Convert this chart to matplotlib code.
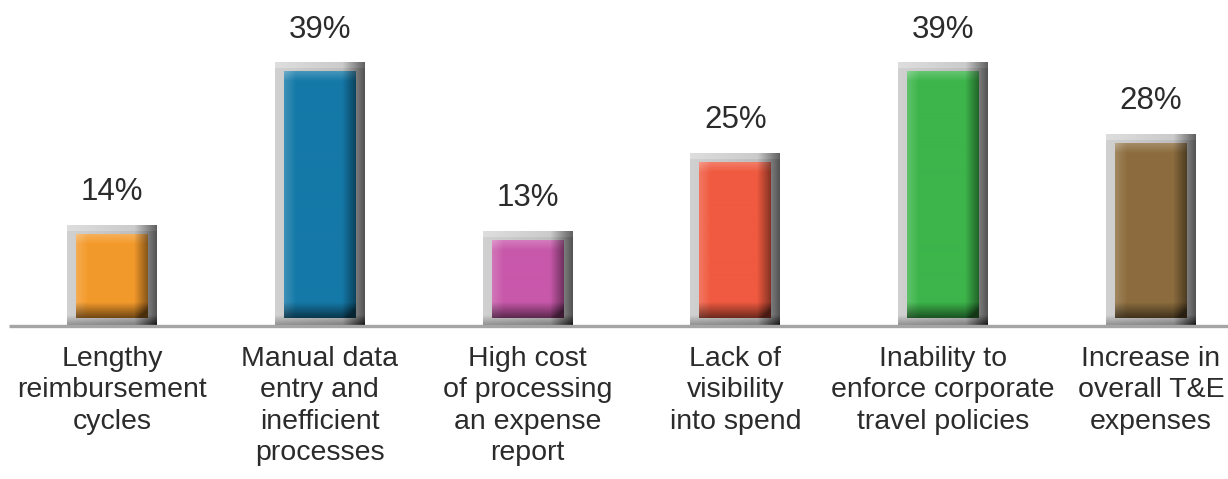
import numpy as np
import matplotlib
matplotlib.use("Agg")
import matplotlib.pyplot as plt
from matplotlib.colors import to_rgb

#----------------------------------------------------------------------------------------
categories = [
    "Lengthy\nreimbursement\ncycles",
    "Manual data\nentry and\ninefficient\nprocesses",
    "High cost\nof processing\nan expense\nreport",
    "Lack of\nvisibility\ninto spend",
    "Inability to\nenforce corporate\ntravel policies",
    "Increase in\noverall T&E\nexpenses",
]
values = [14, 39, 13, 25, 39, 28]
value_labels = ["14%", "39%", "13%", "25%", "39%", "28%"]
colors = ["#F39A2B", "#1579A8", "#C858AA", "#EF5A40", "#3DB54B", "#8C6D3E"]

plt.rcParams['font.family'] = ['Liberation Sans', 'DejaVu Sans']

PX_X = 207.8   # pixels per category
PX_Y = 6.5     # pixels per percent


def inner_image(color, wpx, hpx):
    # bevelled fill: light left/top edge, dark right/bottom edge
    base = np.array(to_rgb(color))
    nx, ny = max(int(wpx), 2), max(int(hpx), 2)
    xs = np.arange(nx) + 0.5
    ys = np.arange(ny) + 0.5          # from top
    X, Y = np.meshgrid(xs, ys)
    light = np.zeros_like(X)
    dark = np.zeros_like(X)
    light += np.where(X < 12, 0.18 * (1 - X / 12), 0)
    light += np.where(Y < 10, 0.22 * (1 - Y / 10), 0)
    dark += np.where(X > nx - 14, 0.45 * (X - (nx - 14)) / 14, 0)
    dark += np.where(Y > ny - 16, 0.55 * (Y - (ny - 16)) / 16, 0)
    dark = np.clip(dark, 0, 0.7)
    rgb = base[None, None, :] + (1 - base[None, None, :]) * light[..., None]
    rgb = rgb * (1 - dark[..., None])
    return np.clip(rgb, 0, 1)


def frame_image(wpx, hpx):
    nx, ny = max(int(wpx), 2), max(int(hpx), 2)
    xs = (np.arange(nx) + 0.5) / nx
    ys = np.arange(ny) + 0.5
    X, Y = np.meshgrid(xs, ys)
    g = 0.82 - 0.10 * X
    g = np.where(X > 0.75, g - 0.40 * (X - 0.75) / 0.25, g)
    g = np.where(Y > ny - 10, g - 0.25 * (Y - (ny - 10)) / 10, g)
    g = np.where(Y < 6, g + 0.05, g)
    g = np.clip(g, 0, 1)
    return np.dstack([g, g, g])


fig = plt.figure(figsize=(12.28, 4.79), dpi=100)
ax = fig.add_axes([0, 154 / 479, 1, 325 / 479])

outer_w = 90 / PX_X
inner_w = 72 / PX_X
top_ext = 9 / PX_Y
bot_gap = 7 / PX_Y

for i, (v, c) in enumerate(zip(values, colors)):
    ftop = v + top_ext
    ax.imshow(frame_image(90, ftop * PX_Y),
              extent=(i - outer_w / 2, i + outer_w / 2, 0, ftop),
              aspect='auto', interpolation='bilinear', zorder=2)
    ax.imshow(inner_image(c, 72, (v - bot_gap) * PX_Y),
              extent=(i - inner_w / 2, i + inner_w / 2, bot_gap, v),
              aspect='auto', interpolation='bilinear', zorder=3)
    ax.annotate(value_labels[i], (i, ftop), xytext=(0, 18), textcoords='offset points',
                ha='center', va='baseline', fontsize=22.5, color='#2b2b2b')
    ax.text(i, -3.2, categories[i], ha='center', va='top', fontsize=20.5,
            color='#2b2b2b', linespacing=1.27, clip_on=False)

x_left = -112 / PX_X
x_right = (1228 - 112) / PX_X
ax.plot([(9 - 112) / PX_X, x_right], [-0.15, -0.15], color='#a5a5a5', lw=2.4,
        solid_capstyle='butt', zorder=4, clip_on=False)

ax.set_xlim(x_left, x_right)
ax.set_ylim(0, 50)
ax.axis('off')

plt.savefig("out.png", dpi=100)
